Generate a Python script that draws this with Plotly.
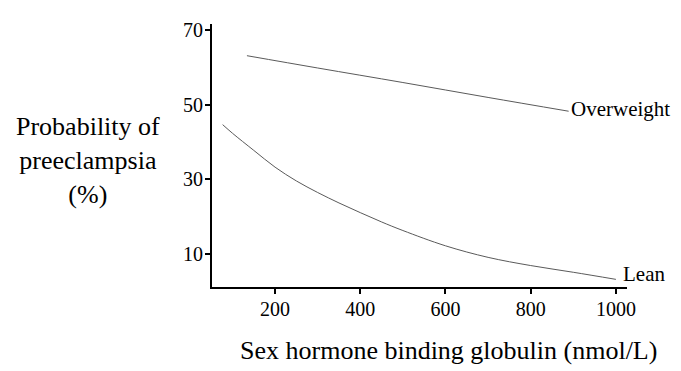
import plotly.graph_objects as go

# Data
lean_x = [77, 100, 150, 200, 250, 300, 350, 400, 450, 500, 600, 700, 800, 900, 1000]
lean_y = [44.6, 42.3, 37.7, 33.2, 29.5, 26.4, 23.6, 21.0, 18.5, 16.2, 12.1, 9.0, 6.8, 5.0, 3.1]
ow_x = [134, 300, 500, 700, 889]
ow_y = [63.1, 59.8, 55.9, 51.9, 48.2]
x_ticks = [200, 400, 600, 800, 1000]
y_ticks = [10, 30, 50, 70]

FONT = "Liberation Serif"
LINE = "#5a5a5a"

fig = go.Figure()
fig.add_trace(go.Scatter(x=ow_x, y=ow_y, mode="lines",
                         line=dict(color=LINE, width=1, shape="spline"), showlegend=False))
fig.add_trace(go.Scatter(x=lean_x, y=lean_y, mode="lines",
                         line=dict(color=LINE, width=1, shape="spline"), showlegend=False))

fig.add_annotation(x=ow_x[-1], y=ow_y[-1], text="Overweight", showarrow=False,
                   xanchor="left", yanchor="middle", xshift=0, yshift=2,
                   font=dict(family=FONT, size=21, color="black"))
fig.add_annotation(x=lean_x[-1], y=lean_y[-1], text="Lean", showarrow=False,
                   xanchor="left", yanchor="middle", xshift=5, yshift=5,
                   font=dict(family=FONT, size=21, color="black"))

fig.add_annotation(xref="paper", yref="paper", x=-0.30, y=0.481,
                   text="Probability of<br>preeclampsia<br>(%)", showarrow=False,
                   xanchor="center", yanchor="middle", align="center",
                   font=dict(family=FONT, size=26, color="black"))
fig.add_annotation(xref="paper", yref="paper", x=0.569, y=-0.24,
                   text="Sex hormone binding globulin (nmol/L)", showarrow=False,
                   xanchor="center", yanchor="middle",
                   font=dict(family=FONT, size=26, color="black"))

fig.update_xaxes(range=[52, 1026], tickvals=x_ticks, ticks="outside", ticklen=5,
                 tickwidth=1.5, tickcolor="black", showline=True, linecolor="black",
                 linewidth=2, showgrid=False, zeroline=False, ticklabelstandoff=-2,
                 tickfont=dict(family=FONT, size=20, color="black"))
fig.update_yaxes(range=[1.05, 71.6], tickvals=y_ticks, ticks="outside", ticklen=5,
                 tickwidth=1.5, tickcolor="black", showline=True, linecolor="black",
                 linewidth=2, showgrid=False, zeroline=False, ticklabelstandoff=-2,
                 tickfont=dict(family=FONT, size=20, color="black"))

# page body has an 8px default margin; compensate so the plot sits where the reference has it
fig.update_layout(width=673, height=363, autosize=False,
                  font=dict(family=FONT, color="black"),
                  margin=dict(l=204, r=54, t=11, b=84),
                  plot_bgcolor="white", paper_bgcolor="white")

fig.write_html("out.html")
